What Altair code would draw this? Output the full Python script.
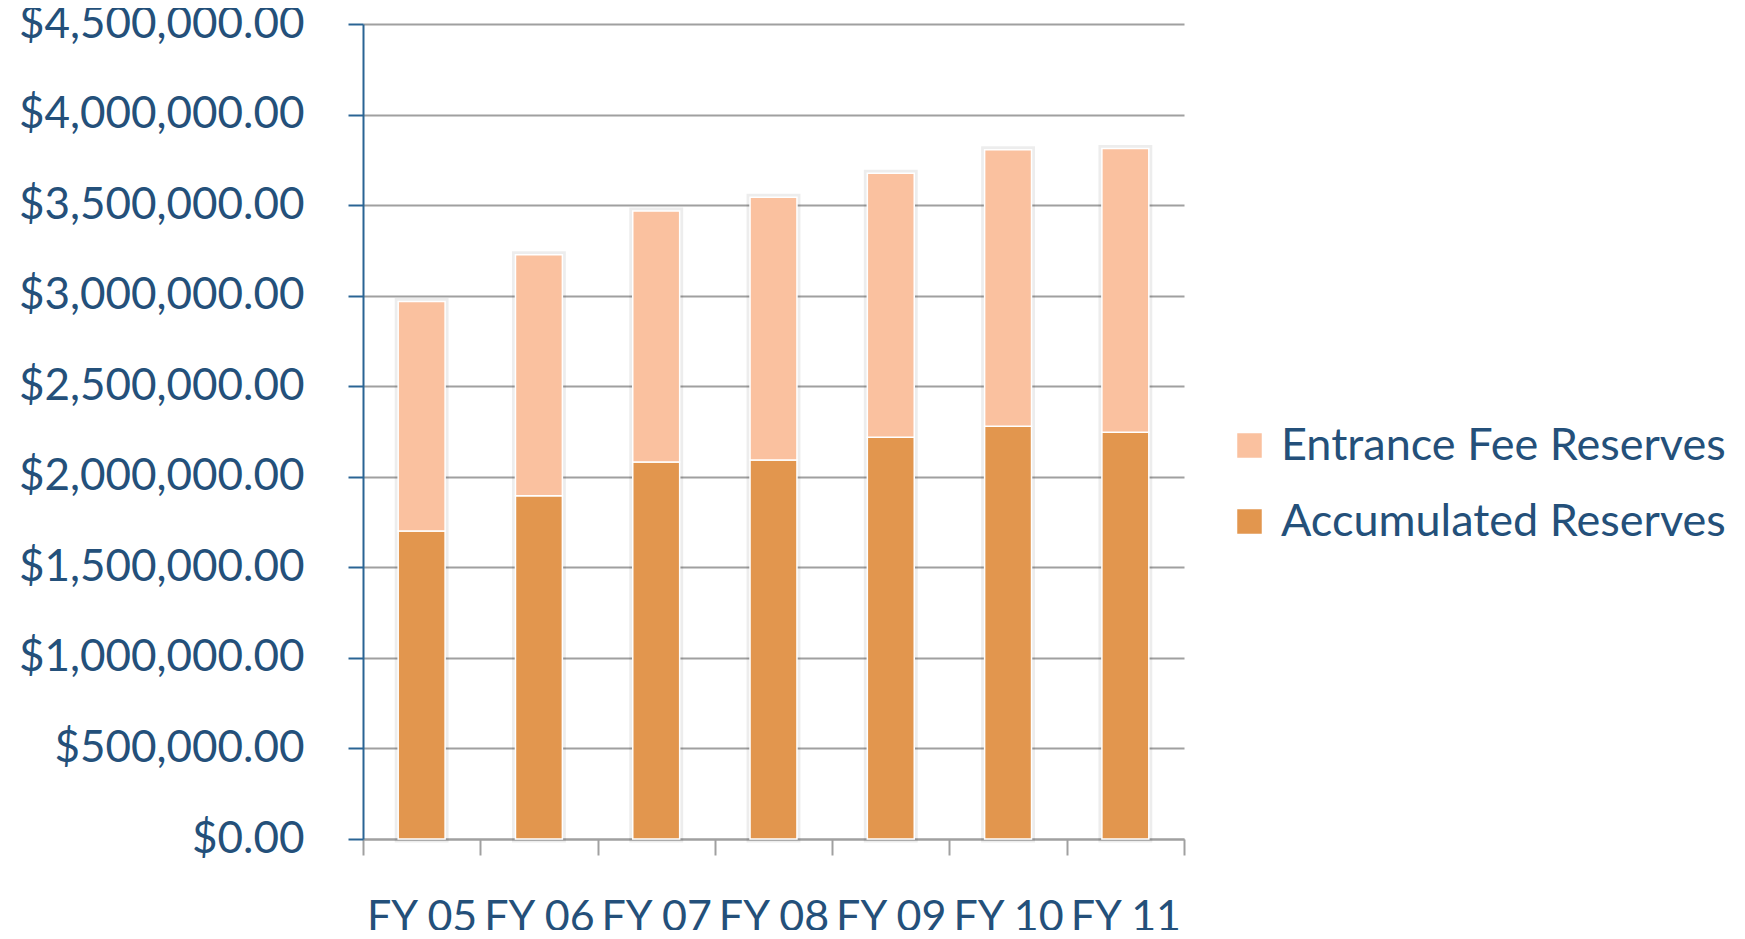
import altair as alt
import pandas as pd

years = ["FY 05", "FY 06", "FY 07", "FY 08", "FY 09", "FY 10", "FY 11"]
accumulated = [1700000, 1895000, 2082000, 2093000, 2218000, 2279000, 2246000]
entrance_fee = [1268000, 1331000, 1386000, 1451000, 1458000, 1527000, 1567000]
series = ["Entrance Fee Reserves", "Accumulated Reserves"]
colors = ["#FAC19F", "#E2964E"]
y_ticks = [0, 500000, 1000000, 1500000, 2000000, 2500000, 3000000, 3500000, 4000000, 4500000]

rows = []
for i, y in enumerate(years):
    rows.append({"year": y, "series": "Accumulated Reserves", "value": accumulated[i], "ord": 0})
    rows.append({"year": y, "series": "Entrance Fee Reserves", "value": entrance_fee[i], "ord": 1})
df = pd.DataFrame(rows)
tot = pd.DataFrame({"year": years, "total": [a + e for a, e in zip(accumulated, entrance_fee)]})

TEXT = "#24507A"
FONT = "Lato"

x_enc = alt.X("year:N", sort=years, title=None,
              scale=alt.Scale(paddingInner=0, paddingOuter=0),
              axis=alt.Axis(labelAngle=0, labelFontSize=43, labelColor=TEXT, labelFont=FONT,
                            labelBaseline="alphabetic", labelPadding=75,
                            domainColor="#A0A0A0", domainWidth=2,
                            tickColor="#A0A0A0", tickWidth=2, tickSize=16,
                            tickBand="extent", grid=False))
y_scale = alt.Scale(domain=[0, 4500000], nice=False)
y_axis = alt.Axis(values=y_ticks, format="$,.2f", labelFontSize=44, labelColor=TEXT,
                  labelFont=FONT, labelPadding=44, labelLimit=500,
                  domainColor="#2A6494", domainWidth=2,
                  tickColor="#2A6494", tickWidth=2, tickSize=15,
                  gridColor="#A0A0A0", gridWidth=2)

shadow = alt.Chart(tot).mark_bar(width=alt.RelativeBandSize(0.4), fill="#000000",
                                 fillOpacity=0.0, stroke="#000000", strokeWidth=7,
                                 strokeOpacity=0.07).encode(
    x=x_enc,
    y=alt.Y("total:Q", title=None, scale=y_scale, axis=y_axis),
)

bars = alt.Chart(df).mark_bar(stroke="white", strokeWidth=1.5,
                              width=alt.RelativeBandSize(0.4)).encode(
    x=x_enc,
    y=alt.Y("value:Q", stack="zero", title=None, scale=y_scale, axis=y_axis),
    color=alt.Color("series:N", scale=alt.Scale(domain=series, range=colors),
                    legend=alt.Legend(title=None, orient="none", legendX=864, legendY=399,
                                      symbolType="square", symbolSize=600, symbolStrokeWidth=0,
                                      labelFontSize=45, labelColor=TEXT, labelFont=FONT,
                                      labelLimit=700, rowPadding=30, labelOffset=9)),
    order=alt.Order("ord:Q", sort="ascending"),
)

chart = alt.layer(shadow, bars).properties(
    width=821, height=815,
    autosize=alt.AutoSizeParams(type="none"),
    padding={"left": 355, "top": 16, "right": 553, "bottom": 91},
).configure(background="white").configure_view(strokeWidth=0, stroke=None)

chart.save("out.html", embed_options={"renderer": "svg", "actions": False})
